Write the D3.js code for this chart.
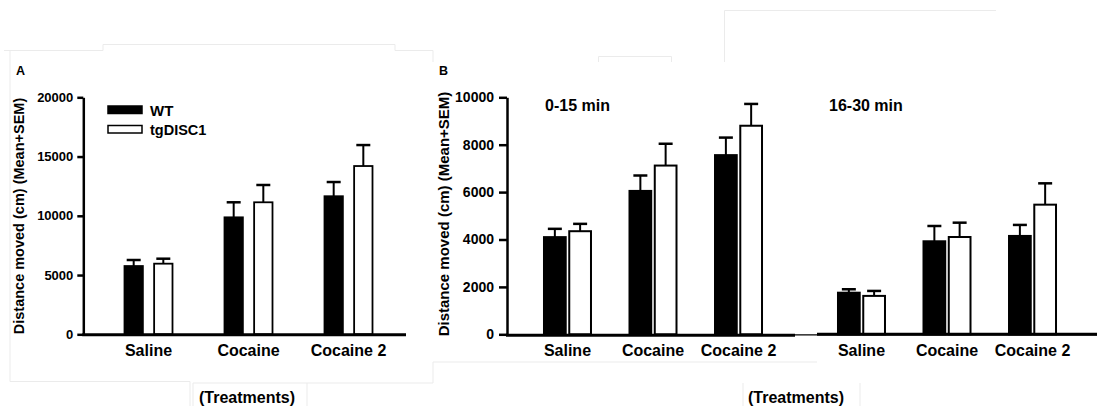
<!DOCTYPE html>
<html>
<head>
<meta charset="utf-8">
<script src="https://cdn.jsdelivr.net/npm/d3@7"></script>
<style>
  body { margin: 0; background: #fff; }
  svg text { font-family: "Liberation Sans", Arial, sans-serif; font-weight: bold; fill: #000; }
</style>
</head>
<body>
<div id="chart"></div>
<script>
// Categories
const treatments = ["Saline", "Cocaine", "Cocaine 2"];
const genotypes = ["WT", "tgDISC1"];
const periods = ["0-15 min", "16-30 min"];

// Panel A: total distance (cm)
const wtMeanA = [5760, 9870, 11650];
const wtSemA = [510, 1270, 1200];
const tgMeanA = [5960, 11140, 14200];
const tgSemA = [420, 1460, 1770];
const ticksA = [0, 5000, 10000, 15000, 20000];

// Panel B: distance per 15-min block
const wtMean0 = [4100, 6050, 7560];
const wtSem0 = [350, 650, 740];
const tgMean0 = [4350, 7120, 8800];
const tgSem0 = [310, 920, 920];
const wtMean16 = [1755, 3925, 4150];
const wtSem16 = [145, 645, 465];
const tgMean16 = [1620, 4105, 5470];
const tgSem16 = [210, 605, 900];
const ticksB = [0, 2000, 4000, 6000, 8000, 10000];

const W = 1099, H = 406;
const svg = d3.select("#chart").append("svg")
  .attr("width", W).attr("height", H);

// faint scan-frame lines seen in the reference
const frame = svg.append("g").attr("fill", "none").attr("stroke", "#ebebeb").attr("stroke-width", 1);
[
  "M4,50.5H103V44.5H395V50.5H433V62",
  "M10,50V381.5H190V406",
  "M193,406V383H307V406M307,383H433V362H817",
  "M598.5,62V56.5H671.5V62",
  "M724.5,62V10.5H996",
  "M743,406V383M860,406V383"
].forEach(d => frame.append("path").attr("d", d));

const y0 = 334.3, yTop = 97.3;

function errorBars(g, rows, x, y, capW) {
  rows.forEach(r => {
    const cx = x(r) ;
    g.append("line")
      .attr("x1", cx).attr("x2", cx)
      .attr("y1", y(r.mean)).attr("y2", y(r.mean + r.sem))
      .attr("stroke", "#000").attr("stroke-width", 2);
    g.append("line")
      .attr("x1", cx - capW / 2).attr("x2", cx + capW / 2)
      .attr("y1", y(r.mean + r.sem)).attr("y2", y(r.mean + r.sem))
      .attr("stroke", "#000").attr("stroke-width", 2.5);
  });
}

// ---------------- Panel A ----------------
{
  const axisX = 83.3;
  const y = d3.scaleLinear().domain([0, 20000]).range([y0, yTop]);
  const x0 = d3.scaleBand().domain(treatments).range([98.5, 398.5]);
  const x1 = d3.scaleBand().domain(genotypes).range([-24, 24]).paddingInner(0.38);

  const rows = [];
  treatments.forEach((t, i) => {
    rows.push({ t, g: "WT", mean: wtMeanA[i], sem: wtSemA[i] });
    rows.push({ t, g: "tgDISC1", mean: tgMeanA[i], sem: tgSemA[i] });
  });
  const xBar = r => x0(r.t) + x0.bandwidth() / 2 + x1(r.g);
  const xMid = r => xBar(r) + x1.bandwidth() / 2;

  const g = svg.append("g");
  errorBars(g, rows, xMid, y, 14);

  g.selectAll("rect.bar").data(rows).join("rect")
    .attr("class", "bar")
    .attr("x", xBar)
    .attr("y", d => y(d.mean))
    .attr("width", x1.bandwidth())
    .attr("height", d => y0 - y(d.mean))
    .attr("fill", d => d.g === "WT" ? "#000" : "#fff")
    .attr("stroke", "#000").attr("stroke-width", 1.8);

  const ax = g.append("g").attr("transform", `translate(${axisX},0)`)
    .call(d3.axisLeft(y).tickValues(ticksA).tickSize(6).tickSizeOuter(0).tickPadding(4).tickFormat(d3.format("d")));
  ax.select(".domain").attr("stroke-width", 2.5);
  ax.selectAll(".tick line").attr("stroke-width", 2.5);
  ax.selectAll(".tick text").style("font-size", "13px");

  g.append("line").attr("x1", axisX - 1).attr("x2", 406)
    .attr("y1", y0 + 0.5).attr("y2", y0 + 0.5)
    .attr("stroke", "#000").attr("stroke-width", 3);

  g.selectAll("text.cat").data(treatments).join("text")
    .attr("class", "cat")
    .attr("x", d => x0(d) + x0.bandwidth() / 2)
    .attr("y", 356)
    .attr("text-anchor", "middle")
    .style("font-size", "16px")
    .text(d => d);

  g.append("text").attr("transform", "translate(24,216) rotate(-90)")
    .attr("text-anchor", "middle").style("font-size", "14.5px")
    .text("Distance moved (cm) (Mean+SEM)");

  g.append("text").attr("x", 16).attr("y", 75).style("font-size", "12.5px").text("A");
  g.append("text").attr("x", 247).attr("y", 402.5).attr("text-anchor", "middle")
    .style("font-size", "16px").text("(Treatments)");

  // legend
  const leg = g.append("g");
  genotypes.forEach((k, i) => {
    leg.append("rect").attr("x", 108).attr("y", 106 + i * 19.5)
      .attr("width", 34).attr("height", 7.5)
      .attr("fill", k === "WT" ? "#000" : "#fff")
      .attr("stroke", "#000").attr("stroke-width", 1.5);
    leg.append("text").attr("x", 150).attr("y", 115.5 + i * 19)
      .style("font-size", i === 0 ? "15px" : "14.5px").text(k);
  });
}

// ---------------- Panel B ----------------
{
  const axisX = 507;
  const y = d3.scaleLinear().domain([0, 10000]).range([y0, yTop]);
  const xp = d3.scaleBand().domain(periods).range([506, 1094]);
  const x0 = d3.scaleBand().domain(treatments).range([0, xp.bandwidth()]).paddingOuter(0.219);
  const x1 = d3.scaleBand().domain(genotypes).range([-23.5, 23.5]).paddingInner(0.14);

  const blocks = [
    [wtMean0, wtSem0, tgMean0, tgSem0],
    [wtMean16, wtSem16, tgMean16, tgSem16]
  ];
  const rows = [];
  periods.forEach((p, j) => {
    const [wm, ws, tm, ts] = blocks[j];
    treatments.forEach((t, i) => {
      rows.push({ p, t, g: "WT", mean: wm[i], sem: ws[i] });
      rows.push({ p, t, g: "tgDISC1", mean: tm[i], sem: ts[i] });
    });
  });
  const xc = (p, t) => xp(p) + x0(t) + x0.bandwidth() / 2;
  const xBar = r => xc(r.p, r.t) + x1(r.g);
  const xMid = r => xBar(r) + x1.bandwidth() / 2;

  const g = svg.append("g");
  errorBars(g, rows, xMid, y, 14);

  g.selectAll("rect.bar").data(rows).join("rect")
    .attr("class", "bar")
    .attr("x", xBar)
    .attr("y", d => y(d.mean))
    .attr("width", x1.bandwidth())
    .attr("height", d => y0 - y(d.mean))
    .attr("fill", d => d.g === "WT" ? "#000" : "#fff")
    .attr("stroke", "#000").attr("stroke-width", 2);

  const ax = g.append("g").attr("transform", `translate(${axisX},0)`)
    .call(d3.axisLeft(y).tickValues(ticksB).tickSize(8).tickSizeOuter(0).tickPadding(5).tickFormat(d3.format("d")));
  ax.select(".domain").attr("stroke-width", 2.5);
  ax.selectAll(".tick line").attr("stroke-width", 2.5);
  ax.selectAll(".tick text").style("font-size", "14px");

  // x axis: thin base, thick per period
  g.append("line").attr("x1", axisX).attr("x2", 1097)
    .attr("y1", y0 + 0.5).attr("y2", y0 + 0.5)
    .attr("stroke", "#000").attr("stroke-width", 1.2);
  g.append("line").attr("x1", axisX - 1).attr("x2", xp(periods[0]) + xp.bandwidth() - 5)
    .attr("y1", y0 + 1).attr("y2", y0 + 1)
    .attr("stroke", "#000").attr("stroke-width", 3);
  g.append("line").attr("x1", xp(periods[1]) + 17).attr("x2", 1097)
    .attr("y1", y0).attr("y2", y0)
    .attr("stroke", "#000").attr("stroke-width", 3);

  const cats = periods.flatMap(p => treatments.map(t => ({ p, t })));
  g.selectAll("text.cat").data(cats).join("text")
    .attr("class", "cat")
    .attr("x", d => xc(d.p, d.t))
    .attr("y", 356)
    .attr("text-anchor", "middle")
    .style("font-size", "16px")
    .text(d => d.t);

  g.selectAll("text.period").data(periods).join("text")
    .attr("class", "period")
    .attr("x", d => xp(d) + 39 - (d === periods[1] ? 10 : 0))
    .attr("y", 110.5)
    .style("font-size", "16px")
    .text(d => d);

  g.append("text").attr("transform", "translate(449,214) rotate(-90)")
    .attr("text-anchor", "middle").style("font-size", "15px")
    .text("Distance moved (cm) (Mean+SEM)");

  g.append("text").attr("x", 439).attr("y", 75).style("font-size", "12.5px").text("B");
  g.append("text").attr("x", 796).attr("y", 402.5).attr("text-anchor", "middle")
    .style("font-size", "16px").text("(Treatments)");
}
</script>
</body>
</html>
